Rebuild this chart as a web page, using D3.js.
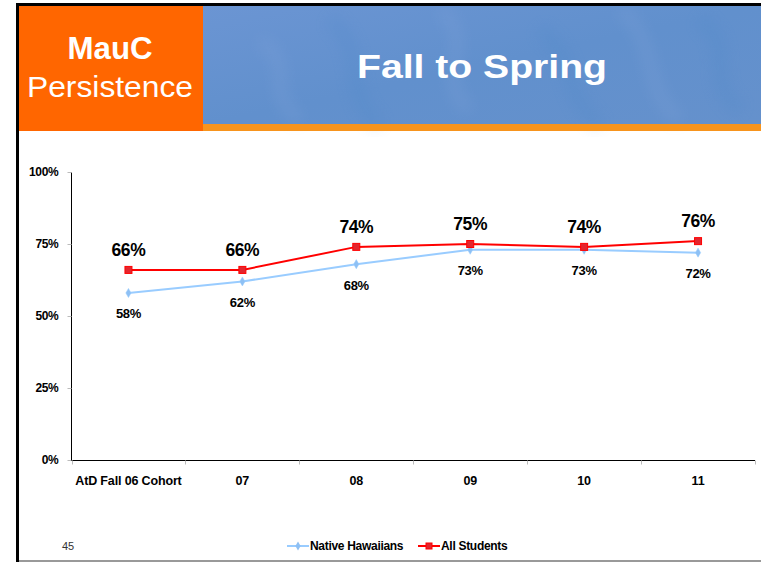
<!DOCTYPE html>
<html>
<head>
<meta charset="utf-8">
<script src="https://cdn.jsdelivr.net/npm/d3@7"></script>
<style>
  html, body { margin: 0; padding: 0; background: #fff; }
  svg { display: block; font-family: "Liberation Sans", Arial, Helvetica, sans-serif; }
</style>
</head>
<body>
<svg id="chart" width="761" height="562"></svg>
<script>
// Cohort persistence, fall to spring
const categories = ["AtD Fall 06 Cohort", "07", "08", "09", "10", "11"];
const nativeHawaiians = [0.58, 0.62, 0.68, 0.73, 0.73, 0.72];
const allStudents = [0.66, 0.66, 0.74, 0.75, 0.74, 0.76];
const yTicks = [0, 0.25, 0.5, 0.75, 1];
const seriesNames = ["Native Hawaiians", "All Students"];

const svg = d3.select("#chart");

// ---- slide header ----
const defs = svg.append("defs");
const grad = defs.append("linearGradient").attr("id", "bannerGrad")
  .attr("x1", 0).attr("y1", 0).attr("x2", 1).attr("y2", 1);
grad.append("stop").attr("offset", "0%").attr("stop-color", "#6b95d3");
grad.append("stop").attr("offset", "50%").attr("stop-color", "#6190cd");
grad.append("stop").attr("offset", "100%").attr("stop-color", "#6591cc");
defs.append("filter").attr("id", "soft")
  .append("feGaussianBlur").attr("stdDeviation", 7);

svg.append("rect").attr("x", 203).attr("y", 5).attr("width", 558).attr("height", 120)
  .attr("fill", "url(#bannerGrad)");
// faint swirl texture in the banner
const swirls = svg.append("g").attr("filter", "url(#soft)").attr("opacity", 0.2);
[[260, 40, 300, 120], [330, 20, 380, 125], [440, 10, 470, 110], [540, 30, 600, 125],
 [620, 10, 680, 120], [700, 20, 740, 110]].forEach(([x1, y1, x2, y2], i) => {
  swirls.append("path")
    .attr("d", `M${x1},${y1} C${x1 + 40},${y1 + 30} ${x2 - 40},${y2 - 30} ${x2},${y2}`)
    .attr("fill", "none")
    .attr("stroke", i % 2 ? "#4a86c8" : "#8aa8dc")
    .attr("stroke-width", 14);
});

svg.append("rect").attr("x", 203).attr("y", 124).attr("width", 558).attr("height", 7)
  .attr("fill", "#f7941d");
svg.append("rect").attr("x", 18).attr("y", 5).attr("width", 185).attr("height", 126)
  .attr("fill", "#ff6600");

svg.append("text").attr("x", 110).attr("y", 59).attr("text-anchor", "middle")
  .attr("fill", "#fff").attr("font-size", 32).attr("font-weight", "bold")
  .attr("textLength", 85).attr("lengthAdjust", "spacingAndGlyphs").text("MauC");
svg.append("text").attr("x", 110).attr("y", 97).attr("text-anchor", "middle")
  .attr("fill", "#fff").attr("font-size", 29)
  .attr("textLength", 166).attr("lengthAdjust", "spacingAndGlyphs").text("Persistence");
svg.append("text").attr("x", 482).attr("y", 78).attr("text-anchor", "middle")
  .attr("fill", "#fff").attr("font-size", 34).attr("font-weight", "bold")
  .attr("textLength", 250).attr("lengthAdjust", "spacingAndGlyphs").text("Fall to Spring");

// slide frame
svg.append("rect").attr("x", 16).attr("y", 3).attr("width", 745).attr("height", 3).attr("fill", "#000");
svg.append("rect").attr("x", 16).attr("y", 3).attr("width", 3).attr("height", 559).attr("fill", "#000");
svg.append("rect").attr("x", 19).attr("y", 560).attr("width", 742).attr("height", 2).attr("fill", "#999");

// ---- chart ----
const x = d3.scaleBand().domain(categories).range([71.5, 755]).padding(0);
const y = d3.scaleLinear().domain([0, 1]).range([460, 172]);
const cx = c => x(c) + x.bandwidth() / 2;

// y axis
const yAxis = svg.append("g").attr("transform", "translate(71.5,0)")
  .call(d3.axisLeft(y).tickValues(yTicks).tickFormat(d3.format(".0%")).tickSize(4).tickPadding(9));
yAxis.select(".domain").attr("stroke", "#000").attr("d", "M0,172.5V460.5");
yAxis.selectAll(".tick line").attr("stroke", "#bbb");
yAxis.selectAll(".tick text").attr("font-size", 12).attr("font-weight", "bold")
  .attr("fill", "#000").attr("letter-spacing", "-0.3px")
  .attr("font-family", "'Liberation Sans', Arial, sans-serif");

// x axis with ticks on category boundaries
const xAxis = svg.append("g").attr("transform", "translate(0,460.5)");
xAxis.append("line").attr("x1", 71.5).attr("x2", 755).attr("stroke", "#000");
const bounds = categories.map(c => x(c)).concat([x.range()[1]]);
xAxis.selectAll("line.tk").data(bounds).join("line").attr("class", "tk")
  .attr("x1", d => Math.round(d) + 0.5).attr("x2", d => Math.round(d) + 0.5)
  .attr("y1", 0).attr("y2", 4).attr("stroke", "#bbb");
xAxis.selectAll("text").data(categories).join("text")
  .attr("x", d => cx(d)).attr("y", 24).attr("text-anchor", "middle")
  .attr("font-size", 12.5).attr("font-weight", "bold").attr("letter-spacing", "-0.15px")
  .text(d => d);

// lines
const line = d3.line().x((d, i) => cx(categories[i])).y(d => y(d));
svg.append("path").datum(nativeHawaiians).attr("d", line)
  .attr("fill", "none").attr("stroke", "#99ccff").attr("stroke-width", 2);
svg.append("path").datum(allStudents).attr("d", line)
  .attr("fill", "none").attr("stroke", "#ff0000").attr("stroke-width", 2);

// markers
const diamond = d3.symbol().type(d3.symbolDiamond).size(24);
svg.append("g").selectAll("path").data(nativeHawaiians).join("path")
  .attr("transform", (d, i) => `translate(${cx(categories[i])},${y(d)})`)
  .attr("d", diamond).attr("fill", "#8ec0f4").attr("stroke", "#99ccff").attr("stroke-width", 0.5);
svg.append("g").selectAll("rect").data(allStudents).join("rect")
  .attr("x", (d, i) => cx(categories[i]) - 3.5).attr("y", d => y(d) - 3.5)
  .attr("width", 7).attr("height", 7)
  .attr("fill", "#e3262e").attr("stroke", "#ff0000").attr("stroke-width", 1);

// value labels
const pct = d3.format(".0%");
svg.append("g").selectAll("text").data(allStudents).join("text")
  .attr("x", (d, i) => cx(categories[i])).attr("y", d => y(d) - 14)
  .attr("text-anchor", "middle").attr("font-size", 17.5).attr("font-weight", "bold")
  .attr("letter-spacing", "-0.4px").text(d => pct(d));
svg.append("g").selectAll("text").data(nativeHawaiians).join("text")
  .attr("x", (d, i) => cx(categories[i])).attr("y", d => y(d) + 25.5)
  .attr("text-anchor", "middle").attr("font-size", 13).attr("font-weight", "bold")
  .attr("letter-spacing", "-0.3px").text(d => pct(d));

// legend
const legend = svg.append("g").attr("transform", "translate(0,546)");
const items = [
  { name: seriesNames[0], color: "#99ccff", x0: 287, x1: 309, tx: 310, kind: "diamond" },
  { name: seriesNames[1], color: "#ff0000", x0: 418, x1: 440, tx: 441, kind: "square" }
];
items.forEach(it => {
  legend.append("line").attr("x1", it.x0).attr("x2", it.x1).attr("y1", 0).attr("y2", 0)
    .attr("stroke", it.color).attr("stroke-width", 2);
  const mx = (it.x0 + it.x1) / 2;
  if (it.kind === "diamond") {
    legend.append("path").attr("transform", `translate(${mx},0)`).attr("d", diamond)
      .attr("fill", "#8ec0f4");
  } else {
    legend.append("rect").attr("x", mx - 3).attr("y", -3).attr("width", 6).attr("height", 6)
      .attr("fill", "#e3262e").attr("stroke", "#ff0000").attr("stroke-width", 1);
  }
  legend.append("text").attr("x", it.tx).attr("y", 4).attr("font-size", 12)
    .attr("font-weight", "bold").attr("letter-spacing", "-0.3px").text(it.name);
});

// page number
svg.append("text").attr("x", 62).attr("y", 550).attr("font-size", 11)
  .attr("fill", "#333").text("45");
</script>
</body>
</html>
